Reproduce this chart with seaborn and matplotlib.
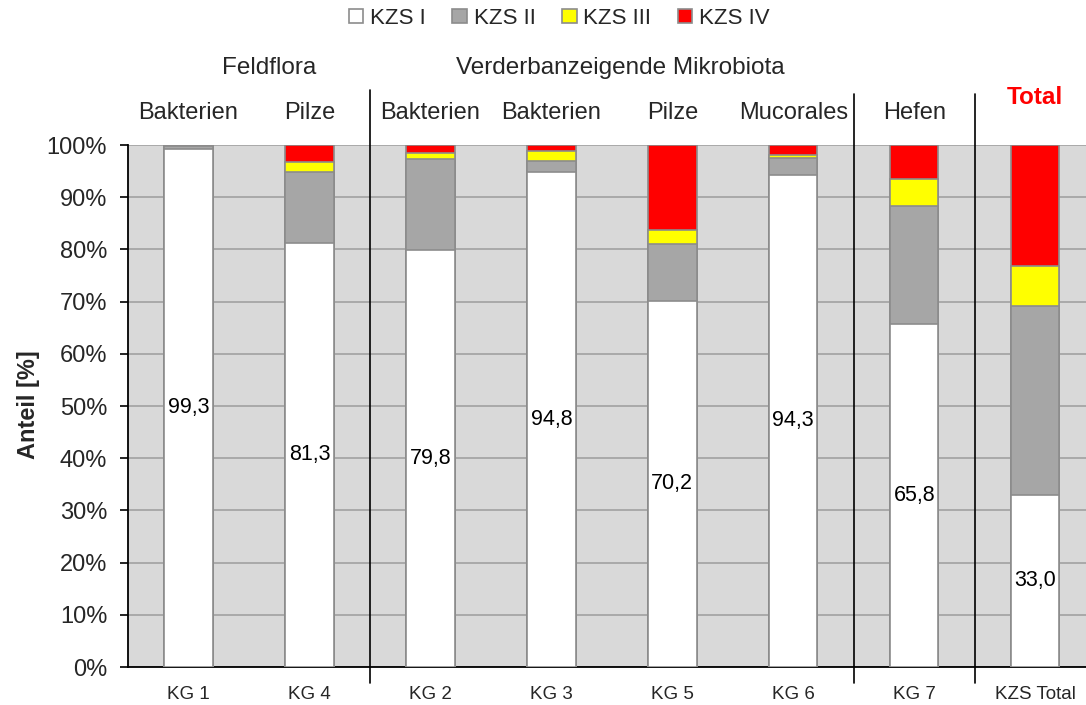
import matplotlib
matplotlib.use("Agg")
import matplotlib.pyplot as plt
import matplotlib.transforms as mtransforms
from matplotlib.patches import Patch
from matplotlib.lines import Line2D
import numpy as np
import pandas as pd
import seaborn as sns

# Germ groups and their share of each KZS class (%)
groups = ["KG 1", "KG 4", "KG 2", "KG 3", "KG 5", "KG 6", "KG 7", "KZS Total"]
kzs_1 = [99.3, 81.3, 79.8, 94.8, 70.2, 94.3, 65.8, 33.0]
kzs_2 = [0.6, 13.6, 17.5, 2.2, 10.9, 3.3, 22.5, 36.2]
kzs_3 = [0.0, 1.8, 1.1, 1.9, 2.6, 0.5, 5.2, 7.6]
kzs_4 = [0.1, 3.3, 1.6, 1.1, 16.3, 1.9, 6.5, 23.2]

series_names = ["KZS I", "KZS II", "KZS III", "KZS IV"]
series_colors = ["#ffffff", "#a6a6a6", "#ffff00", "#ff0000"]

subheadings = ["Bakterien", "Pilze", "Bakterien", "Bakterien", "Pilze", "Mucorales", "Hefen", "Total"]
group_titles = ["Feldflora", "Verderbanzeigende Mikrobiota"]

sns.set_theme(style="white")
plt.rcParams["font.family"] = ["Liberation Sans", "DejaVu Sans"]

df = pd.DataFrame({"group": groups, "KZS I": kzs_1, "KZS II": kzs_2,
                   "KZS III": kzs_3, "KZS IV": kzs_4})
cum = df[series_names].cumsum(axis=1)

fig = plt.figure(figsize=(10.86, 7.05), dpi=100)
ax = fig.add_axes([0.1179, 0.0539, 0.8821, 0.7404])
ax.set_facecolor("#d9d9d9")

# stacked bars: draw cumulative totals from the top segment down
for name, color in reversed(list(zip(series_names, series_colors))):
    sns.barplot(x=df["group"], y=cum[name], color=color, ax=ax, width=0.4,
                edgecolor="#8c8c8c", linewidth=1.2, saturation=1, zorder=3)

ax.set_ylim(0, 100)
ax.set_xlim(-0.5, 7.42)
ax.set_yticks(np.arange(0, 101, 10))
ax.set_yticklabels([f"{v}%" for v in range(0, 101, 10)], fontsize=17)
ax.yaxis.grid(True, color="#a6a6a6", linewidth=1.3, zorder=0)
ax.set_axisbelow(True)
ax.tick_params(axis="y", direction="out", length=6, width=1.2, color="black", left=True, pad=9)
ax.tick_params(axis="x", length=0, labelsize=13.5, pad=14)
ax.set_xlabel("")
ax.set_ylabel("")
for side in ["top", "right"]:
    ax.spines[side].set_visible(False)
for side in ["left", "bottom"]:
    ax.spines[side].set_color("black")
    ax.spines[side].set_linewidth(1.3)

# value labels centred in the KZS I segment
for i, v in enumerate(kzs_1):
    ax.text(i, v / 2, f"{v:.1f}".replace(".", ","), ha="center", va="center",
            fontsize=15.5, color="black", zorder=5)

trans = mtransforms.blended_transform_factory(ax.transData, fig.transFigure)

# headings above the chart
for i, txt in enumerate(subheadings):
    if txt == "Total":
        ax.text(i, 0.862, txt, transform=trans, ha="center", va="center",
                fontsize=17.5, color="#ff0000", fontweight="bold")
    else:
        ax.text(i, 0.84, txt, transform=trans, ha="center", va="center", fontsize=17)
ax.text(0.67, 0.904, group_titles[0], transform=trans, ha="center", va="center", fontsize=17.5)
ax.text(3.57, 0.904, group_titles[1], transform=trans, ha="center", va="center", fontsize=17.5)

# separators between group blocks
for xs, ytop in [(1.5, 0.872), (5.5, 0.866), (6.5, 0.866)]:
    ax.add_line(Line2D([xs, xs], [0.031, ytop], transform=trans, color="black",
                       linewidth=1.2, clip_on=False, zorder=6))

fig.text(0.026, 0.4255, "Anteil [%]", rotation=90, ha="center", va="center",
         fontsize=17, fontweight="bold")

handles = [Patch(facecolor=c, edgecolor="#8c8c8c", linewidth=1.2) for c in series_colors]
fig.legend(handles, series_names, loc="center", bbox_to_anchor=(0.515, 0.974), ncol=4,
           frameon=False, fontsize=16, handlelength=0.65, handleheight=0.65,
           handletextpad=0.3, columnspacing=1.2)

fig.savefig("out.png", dpi=100)
